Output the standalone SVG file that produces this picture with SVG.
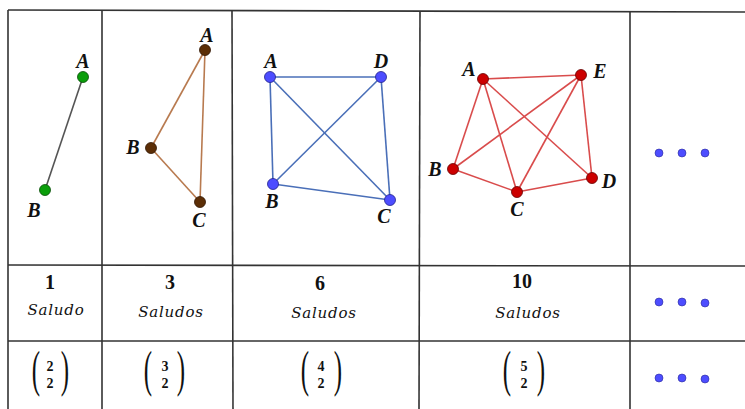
<svg xmlns="http://www.w3.org/2000/svg" width="745" height="409" viewBox="0 0 745 409">
<style>
.grid{stroke:#333;stroke-width:1.6;fill:none}
.lbl{font-family:"Liberation Serif","DejaVu Serif",serif;font-style:italic;font-weight:bold;font-size:20px;fill:#111}
.num{font-family:"Liberation Serif","DejaVu Serif",serif;font-weight:bold;font-size:20px;fill:#111;text-anchor:middle}
.sal{font-family:"DejaVu Serif","Liberation Serif",serif;font-style:italic;font-size:15px;fill:#111;text-anchor:middle;letter-spacing:0.8px}
.bin{font-family:"Liberation Serif","DejaVu Serif",serif;font-weight:bold;font-size:14px;fill:#111;text-anchor:middle}
.par{font-family:"Liberation Serif","DejaVu Serif",serif;font-size:50px;fill:#111;text-anchor:middle}
.dot{fill:#4d4dff;stroke:#2a2a99;stroke-width:0.6}
.g{fill:#0a9e0a;stroke:#064d06;stroke-width:0.8}
.br{fill:#5c2e06;stroke:#301503;stroke-width:0.8}
.bl{fill:#4d4dff;stroke:#22228a;stroke-width:0.8}
.rd{fill:#cc0000;stroke:#660000;stroke-width:0.8}
</style>
<rect width="745" height="409" fill="#fff"/>
<g id="grid" class="grid">
<line x1="8" y1="10" x2="745" y2="12"/>
<line x1="8" y1="265" x2="745" y2="266"/>
<line x1="8" y1="341" x2="745" y2="341"/>
<line x1="8" y1="10" x2="8" y2="409"/>
<line x1="102" y1="10" x2="102" y2="409"/>
<line x1="232" y1="10" x2="233" y2="409"/>
<line x1="420" y1="11" x2="419" y2="409"/>
<line x1="630" y1="11" x2="630" y2="409"/>
</g>
<g id="connectors" stroke-width="1.6" fill="none">
<line x1="83" y1="77" x2="45" y2="190" stroke="#555"/>
<g stroke="#b87a4f">
<line x1="205" y1="50" x2="151" y2="148"/>
<line x1="205" y1="50" x2="200" y2="202"/>
<line x1="151" y1="148" x2="200" y2="202"/>
</g>
<g stroke="#4a6fb8">
<line x1="270" y1="77" x2="381" y2="77"/>
<line x1="270" y1="77" x2="273" y2="184"/>
<line x1="270" y1="77" x2="390" y2="200"/>
<line x1="381" y1="77" x2="273" y2="184"/>
<line x1="381" y1="77" x2="390" y2="200"/>
<line x1="273" y1="184" x2="390" y2="200"/>
</g>
<g stroke="#d94c4c">
<line x1="483" y1="79" x2="581" y2="75"/>
<line x1="483" y1="79" x2="453" y2="169"/>
<line x1="483" y1="79" x2="517" y2="192"/>
<line x1="483" y1="79" x2="592" y2="178"/>
<line x1="581" y1="75" x2="453" y2="169"/>
<line x1="581" y1="75" x2="517" y2="192"/>
<line x1="581" y1="75" x2="592" y2="178"/>
<line x1="453" y1="169" x2="517" y2="192"/>
<line x1="517" y1="192" x2="592" y2="178"/>
</g>
</g>
<g id="n1A"><circle cx="83" cy="77" r="5.5" class="g"/><text x="83" y="68" class="lbl" text-anchor="middle">A</text></g>
<g id="n1B"><circle cx="45" cy="190" r="5.5" class="g"/><text x="34" y="217" class="lbl" text-anchor="middle">B</text></g>
<g id="n2A"><circle cx="205" cy="50" r="5.5" class="br"/><text x="207" y="42" class="lbl" text-anchor="middle">A</text></g>
<g id="n2B"><circle cx="151" cy="148" r="5.5" class="br"/><text x="133" y="154" class="lbl" text-anchor="middle">B</text></g>
<g id="n2C"><circle cx="200" cy="202" r="5.5" class="br"/><text x="199" y="227" class="lbl" text-anchor="middle">C</text></g>
<g id="n3A"><circle cx="270" cy="77" r="5.5" class="bl"/><text x="271" y="68" class="lbl" text-anchor="middle">A</text></g>
<g id="n3D"><circle cx="381" cy="77" r="5.5" class="bl"/><text x="381" y="68" class="lbl" text-anchor="middle">D</text></g>
<g id="n3B"><circle cx="273" cy="184" r="5.5" class="bl"/><text x="272" y="208" class="lbl" text-anchor="middle">B</text></g>
<g id="n3C"><circle cx="390" cy="200" r="5.5" class="bl"/><text x="384" y="223" class="lbl" text-anchor="middle">C</text></g>
<g id="n4A"><circle cx="483" cy="79" r="5.5" class="rd"/><text x="469" y="76" class="lbl" text-anchor="middle">A</text></g>
<g id="n4E"><circle cx="581" cy="75" r="5.5" class="rd"/><text x="600" y="78" class="lbl" text-anchor="middle">E</text></g>
<g id="n4B"><circle cx="453" cy="169" r="5.5" class="rd"/><text x="435" y="176" class="lbl" text-anchor="middle">B</text></g>
<g id="n4C"><circle cx="517" cy="192" r="5.5" class="rd"/><text x="517" y="216" class="lbl" text-anchor="middle">C</text></g>
<g id="n4D"><circle cx="592" cy="178" r="5.5" class="rd"/><text x="609" y="188" class="lbl" text-anchor="middle">D</text></g>
<g id="dots">
<circle cx="659" cy="153" r="4" class="dot"/><circle cx="682" cy="153" r="4" class="dot"/><circle cx="705" cy="153" r="4" class="dot"/>
<circle cx="659" cy="302" r="4" class="dot"/><circle cx="682" cy="302" r="4" class="dot"/><circle cx="705" cy="303" r="4" class="dot"/>
<circle cx="659" cy="378" r="4" class="dot"/><circle cx="682" cy="378" r="4" class="dot"/><circle cx="705" cy="379" r="4" class="dot"/>
</g>
<g id="counts">
<text x="50" y="289" class="num">1</text><text x="56" y="315" class="sal">Saludo</text>
<text x="170" y="289" class="num">3</text><text x="171" y="317" class="sal">Saludos</text>
<text x="320" y="290" class="num">6</text><text x="324" y="318" class="sal">Saludos</text>
<text x="522" y="288" class="num">10</text><text x="528" y="318" class="sal">Saludos</text>
</g>
<g id="binomials">
<g><text class="par" transform="translate(36,386) scale(0.5,1)">(</text><text class="par" transform="translate(65,386) scale(0.5,1)">)</text><text x="50" y="371" class="bin">2</text><text x="50" y="388" class="bin">2</text></g>
<g><text class="par" transform="translate(148,386) scale(0.5,1)">(</text><text class="par" transform="translate(181,386) scale(0.5,1)">)</text><text x="165" y="371" class="bin">3</text><text x="165" y="388" class="bin">2</text></g>
<g><text class="par" transform="translate(305,386) scale(0.5,1)">(</text><text class="par" transform="translate(338,386) scale(0.5,1)">)</text><text x="321" y="371" class="bin">4</text><text x="321" y="388" class="bin">2</text></g>
<g><text class="par" transform="translate(507,386) scale(0.5,1)">(</text><text class="par" transform="translate(541,386) scale(0.5,1)">)</text><text x="524" y="371" class="bin">5</text><text x="524" y="388" class="bin">2</text></g>
</g>
</svg>
